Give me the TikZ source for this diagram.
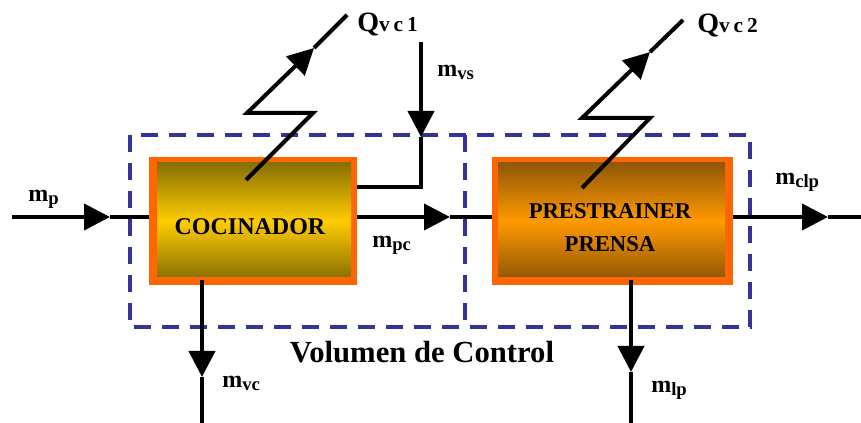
\documentclass[tikz,border=0pt]{standalone}
\usepackage{fontspec}
\setmainfont{Liberation Serif}
\usetikzlibrary{arrows.meta}
\definecolor{vcblue}{HTML}{333399}
\definecolor{boxorange}{HTML}{FF6600}
\definecolor{cocdark}{HTML}{7A6605}
\definecolor{cocmid}{HTML}{FFCC00}
\definecolor{prdark}{HTML}{855008}
\definecolor{prmid}{HTML}{FF9900}
\newcommand{\mflow}[1]{m\raisebox{-2pt}{\fontsize{14}{14}\selectfont #1}}
\newcommand{\qflow}[1]{Q{\fontsize{16}{16}\selectfont #1}}
\begin{document}
\begin{tikzpicture}[x=0.75pt,y=-0.75pt,
  flow/.style={line width=3pt,black},
  tipped/.style={flow,-{Triangle[length=19.5pt,width=19.5pt]}},
  vcline/.style={vcblue,line width=3pt,dash pattern=on 12.5pt off 8.5pt},
  procbox/.style={fill=boxorange,draw=none,inner sep=0pt,minimum height=96pt},
  boxtext/.style={font=\bfseries\fontsize{18}{24.75}\selectfont,inner sep=0pt,align=center},
  mlab/.style={font=\bfseries\fontsize{18}{18}\selectfont,inner sep=0pt,anchor=base west},
  qlab/.style={font=\bfseries\fontsize{21}{21}\selectfont,inner sep=0pt,anchor=base west}]
\useasboundingbox (0,0) rectangle (861,423);

% control volume
\draw[vcline] (130,135) rectangle (750,327);
\draw[vcline] (465,135) -- (465,327);
\node[font=\bfseries\fontsize{23}{23}\selectfont,inner sep=0pt,anchor=base] (vc) at (422,363) {Volumen de Control};

% process boxes
\node[procbox,minimum width=156pt,
  path picture={\shade[top color=cocdark,bottom color=cocdark,middle color=cocmid]
    ([xshift=6pt,yshift=6.5pt]path picture bounding box.south west) rectangle
    ([xshift=-4.5pt,yshift=-4.5pt]path picture bounding box.north east);}] (coc) at (253,221) {};
\node[procbox,minimum width=180.75pt,
  path picture={\shade[top color=prdark,bottom color=prdark,middle color=prmid]
    ([xshift=4.5pt,yshift=6.5pt]path picture bounding box.south west) rectangle
    ([xshift=-6pt,yshift=-4.5pt]path picture bounding box.north east);}] (pre) at (612.5,221) {};
\node[boxtext,anchor=base] (coct) at (250,235) {COCINADOR};
\node[boxtext,anchor=north,font=\bfseries\fontsize{17}{24.75}\selectfont] (pret) at (610,203) {PRESTRAINER\\PRENSA};

% coordinates
\coordinate (mpin) at (12,217);
\coordinate (mptip) at (110,217);
\coordinate (mpctip) at (450,217);
\coordinate (mclptip) at (828,217);
\coordinate (mclpout) at (861,217);
\coordinate (mvstop) at (421,42);
\coordinate (mvstip) at (421,137);
\coordinate (mvscorner) at (421,187);
\coordinate (mvsend) at (357,187);
\coordinate (mvcstart) at (202,280);
\coordinate (mvctip) at (202,377);
\coordinate (mvcout) at (202,423);
\coordinate (mlpstart) at (631,280);
\coordinate (mlptip) at (631,372);
\coordinate (mlpout) at (631,423);
% heat bolts
\coordinate (qa0) at (246,180);
\coordinate (qa1) at (313,113);
\coordinate (qa2) at (247,113);
\coordinate (qatip) at (314,48);
\coordinate (qa3) at (347,15);
\coordinate (qb0) at (582,188);
\coordinate (qb1) at (650,118);
\coordinate (qb2) at (582,118);
\coordinate (qbtip) at (650,52);
\coordinate (qb3) at (683,20);

% mass flows
\draw[tipped] (mpin) -- (mptip);
\draw[flow] (mptip) -- (coc.west |- mptip);
\draw[tipped] (coc.east |- mptip) -- (mpctip);
\draw[flow] (mpctip) -- (pre.west |- mpctip);
\draw[tipped] (pre.east |- mclptip) -- (mclptip);
\draw[flow] (mclptip) -- (mclpout);
\draw[tipped] (mvstop) -- (mvstip);
\draw[flow,line join=miter] (mvstip) -- (mvscorner) -- (mvsend);
\draw[tipped] (mvcstart) -- (mvctip);
\draw[flow] (mvctip) -- (mvcout);
\draw[tipped] (mlpstart) -- (mlptip);
\draw[flow] (mlptip) -- (mlpout);

% heat flows
\draw[flow,line join=miter,-{Triangle[length=19.5pt,width=19.5pt]}] (qa0) -- (qa1) -- (qa2) -- (qatip);
\draw[flow] (qatip) -- (qa3);
\draw[flow,line join=miter,-{Triangle[length=19.5pt,width=19.5pt]}] (qb0) -- (qb1) -- (qb2) -- (qbtip);
\draw[flow] (qbtip) -- (qb3);

% labels
\node[qlab] (q1) at (357,32) {\qflow{v\kern3pt c\kern3pt 1}};
\node[qlab] (q2) at (697,33) {\qflow{v\kern3pt c\kern3pt 2}};
\node[mlab] (lmp) at (28,202) {\mflow{p}};
\node[mlab] (lmpc) at (372,248) {\mflow{pc}};
\node[mlab] (lmclp) at (775,185) {\mflow{clp}};
\node[mlab] (lmvs) at (437,77) {\mflow{vs}};
\node[mlab] (lmvc) at (222,388) {\mflow{vc}};
\node[mlab] (lmlp) at (651,393) {\mflow{lp}};
\end{tikzpicture}
\end{document}
